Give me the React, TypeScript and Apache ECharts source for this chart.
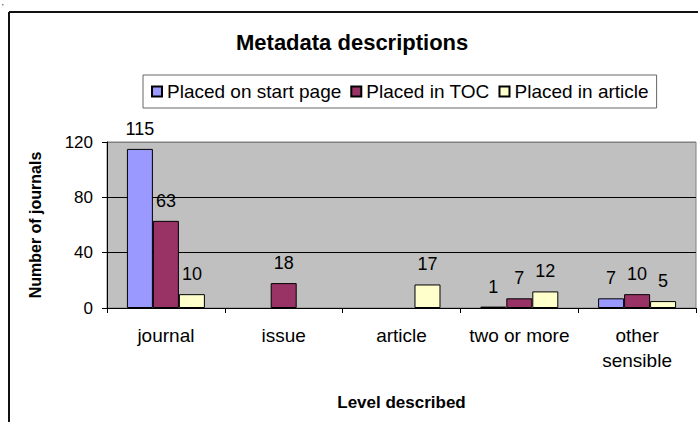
import React, { useEffect, useRef } from "react";
import * as echarts from "echarts";

const categories = ["journal", "issue", "article", "two or more", "other\nsensible"];
const seriesNames = ["Placed on start page", "Placed in TOC", "Placed in article"];
const startPage = [115, 0, 0, 1, 7];
const toc = [63, 18, 0, 7, 10];
const inArticle = [10, 0, 17, 12, 5];
const colors = ["#9999FF", "#993366", "#FFFFCC"];

const FONT = "'Liberation Sans', Arial, sans-serif";

export default function App() {
  const ref = useRef<HTMLDivElement>(null);
  useEffect(() => {
    if (!ref.current) return;
    const chart = echarts.init(ref.current, null, { renderer: "svg" });
    const values = [startPage, toc, inArticle];
    chart.setOption({
      animation: false,
      backgroundColor: "#ffffff",
      textStyle: { fontFamily: FONT, color: "#000" },
      title: {
        text: "Metadata descriptions",
        left: 236,
        top: 31,
        padding: 0,
        textStyle: { fontFamily: FONT, fontSize: 22, fontWeight: "bold", color: "#000" },
      },
      legend: {
        left: 143,
        top: 75,
        orient: "horizontal",
        padding: [7, 8, 7, 8],
        itemGap: 9,
        itemWidth: 10,
        itemHeight: 10,
        icon: "rect",
        borderColor: "#666666",
        borderWidth: 1,
        backgroundColor: "#ffffff",
        data: seriesNames,
        textStyle: { fontFamily: FONT, fontSize: 19, color: "#000", lineHeight: 19 },
      },
      grid: {
        left: 107,
        right: 2,
        top: 142,
        bottom: 114,
        show: true,
        backgroundColor: "#C0C0C0",
        borderColor: "#808080",
        borderWidth: 1,
      },
      xAxis: {
        type: "category",
        data: categories,
        name: "Level described",
        nameLocation: "middle",
        nameGap: 86,
        nameTextStyle: { fontFamily: FONT, fontSize: 17, fontWeight: "bold", color: "#000" },
        axisLine: { show: true, lineStyle: { color: "#000", width: 1 } },
        axisTick: { show: true, length: 5, interval: 0, lineStyle: { color: "#000" } },
        axisLabel: {
          interval: 0,
          margin: 15,
          fontFamily: FONT,
          fontSize: 19,
          lineHeight: 25,
          color: "#000",
        },
        splitLine: { show: false },
      },
      yAxis: {
        type: "value",
        min: 0,
        max: 120,
        interval: 40,
        name: "Number of journals",
        nameLocation: "middle",
        nameRotate: 90,
        nameGap: 64,
        nameTextStyle: { fontFamily: FONT, fontSize: 16, fontWeight: "bold", color: "#000" },
        axisLine: { show: true, lineStyle: { color: "#000", width: 1 } },
        axisTick: { show: true, length: 5, lineStyle: { color: "#000" } },
        axisLabel: { margin: 14, fontFamily: FONT, fontSize: 17, color: "#000" },
        splitLine: {
          show: true,
          lineStyle: { color: ["#000", "#000", "#000", "#808080"], width: 1 },
        },
      },
      series: seriesNames.map((name, i) => ({
        name,
        type: "bar",
        data: values[i].map((v) => (v === 0 ? "-" : v)),
        barGap: "0%",
        barCategoryGap: "33.8%",
        itemStyle: { color: colors[i], borderColor: "#000", borderWidth: 1 },
        label: {
          show: true,
          position: "top",
          distance: 11,
          fontFamily: FONT,
          fontSize: 18,
          lineHeight: 18,
          color: "#000",
        },
      })),
      graphic: [
        { type: "line", shape: { x1: 9, y1: 12, x2: 698, y2: 12 }, style: { stroke: "#111", lineWidth: 2 } },
        { type: "line", shape: { x1: 9, y1: 12, x2: 9, y2: 422 }, style: { stroke: "#111", lineWidth: 2 } },
        { type: "rect", shape: { x: 2, y: 4, width: 1.5, height: 1.5 }, style: { fill: "#888" } },
      ],
    });
    return () => chart.dispose();
  }, []);
  return (
    <div
      ref={ref}
      style={{ position: "fixed", left: 0, top: 0, width: 698, height: 422 }}
    />
  );
}
